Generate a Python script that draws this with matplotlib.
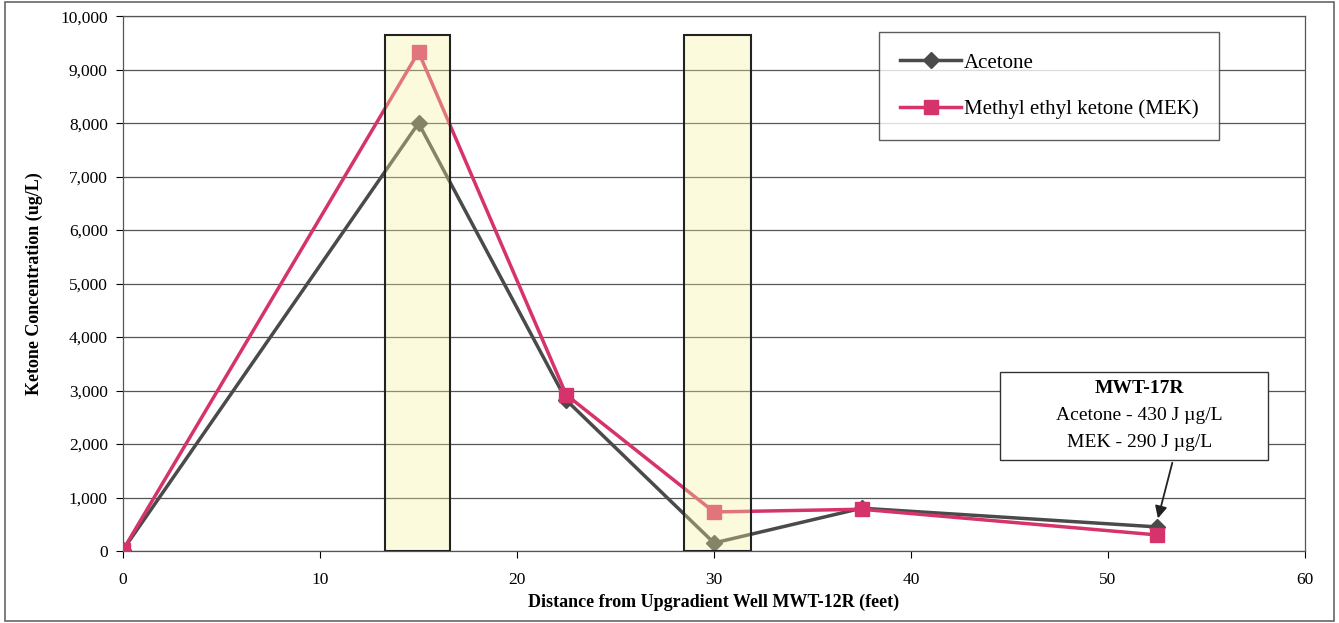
import numpy as np
import matplotlib.pyplot as plt
from matplotlib.patches import Rectangle
from matplotlib.ticker import FuncFormatter, MultipleLocator

# === data ===
distance = [0, 15, 22.5, 30, 37.5, 52.5]
acetone = [20, 8000, 2820, 150, 800, 450]
mek = [20, 9330, 2920, 730, 780, 300]

# shaded zones (x start, x end, top)
zones = [(13.3, 16.6, 9650), (28.5, 31.9, 9650)]

plt.rcParams.update({
    'font.family': ['Liberation Serif', 'DejaVu Serif'],
    'font.size': 12,
})

fig = plt.figure(figsize=(13.39, 6.23), dpi=100)
ax = fig.add_axes([0.0919, 0.1156, 0.8827, 0.8584])

c_ace = "#4a4a4a"
c_mek = "#d6336c"

ax.plot(distance, acetone, color=c_ace, lw=2.5, marker='D', ms=8,
        label='Acetone', zorder=3)
ax.plot(distance, mek, color=c_mek, lw=2.5, marker='s', ms=10,
        label='Methyl ethyl ketone (MEK)', zorder=4)

for x0, x1, top in zones:
    ax.add_patch(Rectangle((x0, 0), x1 - x0, top, facecolor='#f6f3a0',
                           alpha=0.35, edgecolor='none', zorder=5))
    ax.add_patch(Rectangle((x0, 0), x1 - x0, top, facecolor='none',
                           edgecolor='#222222', lw=1.5, zorder=6))

ax.set_xlim(0, 60)
ax.set_ylim(0, 10000)
ax.xaxis.set_major_locator(MultipleLocator(10))
ax.yaxis.set_major_locator(MultipleLocator(1000))
ax.yaxis.set_major_formatter(FuncFormatter(lambda v, p: f"{int(v):,}"))
ax.grid(True, axis='y', color='#555555', lw=0.9)
ax.set_axisbelow(True)
ax.tick_params(direction='out', length=5, labelsize=12.5)
ax.tick_params(axis='x', pad=10)
ax.tick_params(axis='y', pad=6)
for s in ax.spines.values():
    s.set_color('#555555')
    s.set_linewidth(0.9)

ax.set_xlabel("Distance from Upgradient Well MWT-12R (feet)", fontweight='bold',
              fontsize=13, labelpad=4)
ax.set_ylabel("Ketone Concentration (ug/L)", fontweight='bold', fontsize=13,
              labelpad=12)

leg = ax.legend(loc='upper left', bbox_to_anchor=(0.640, 0.970), fontsize=15,
                frameon=True, fancybox=False, edgecolor='#333333',
                handlelength=2.9, handletextpad=0.15, borderpad=1.0,
                labelspacing=1.3, borderaxespad=0)
leg.get_frame().set_linewidth(1.0)

ax.annotate("", xy=(52.5, 560), xytext=(53.3, 1700),
            arrowprops=dict(arrowstyle='-|>', color='#222222', lw=1.3,
                            mutation_scale=18), zorder=7)
ax.text(51.6, 3040, "MWT-17R", ha='center', va='center', fontsize=14,
        fontweight='bold', zorder=8)
ax.text(51.6, 2540, "Acetone - 430 J \u00b5g/L", ha='center', va='center',
        fontsize=14, zorder=8)
ax.text(51.6, 2030, "MEK - 290 J \u00b5g/L", ha='center', va='center',
        fontsize=14, zorder=8)
ax.add_patch(Rectangle((44.5, 1700), 13.6, 1650, facecolor='white',
                       edgecolor='#333333', lw=1.0, zorder=7))

fig.add_artist(Rectangle((0.004, 0.004), 0.992, 0.992, transform=fig.transFigure,
                         facecolor='none', edgecolor='#666666', lw=1.2))

fig.savefig("out.png", dpi=100)
